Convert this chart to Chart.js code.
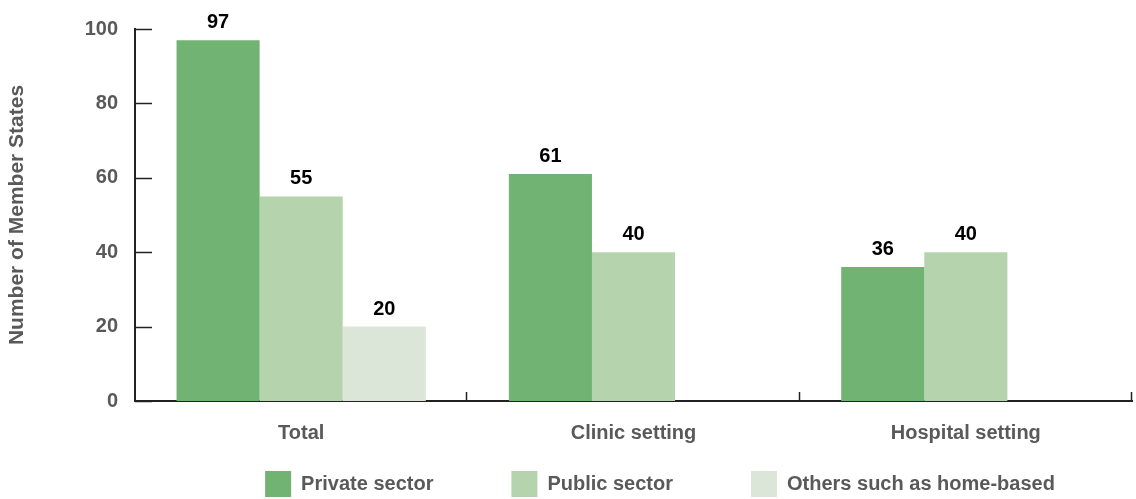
<!DOCTYPE html>
<html>
<head>
<meta charset="utf-8">
<script src="https://cdn.jsdelivr.net/npm/chart.js@4"></script>
<style>
  html, body { margin: 0; padding: 0; background: #fff; overflow: hidden; }
  #wrap { width: 1136px; height: 499px; position: relative; }
</style>
</head>
<body>
<div id="wrap"><canvas id="settingChart"></canvas></div>
<script>
const categories = ['Total', 'Clinic setting', 'Hospital setting'];
const privateSector = [97, 61, 36];
const publicSector = [55, 40, 40];
const othersHomeBased = [20, null, null];
const yTicks = [0, 20, 40, 60, 80, 100];

const FONT = "'Liberation Sans', Arial, sans-serif";
const GREY = '#595959';
const AXIS = '#222222';

// value labels above every bar
const valueLabels = {
    id: 'valueLabels',
    afterDatasetsDraw(chart) {
        const ctx = chart.ctx;
        ctx.save();
        ctx.font = 'bold 20px ' + FONT;
        ctx.fillStyle = '#000';
        ctx.textAlign = 'center';
        ctx.textBaseline = 'alphabetic';
        chart.data.datasets.forEach((ds, i) => {
            const meta = chart.getDatasetMeta(i);
            meta.data.forEach((bar, j) => {
                const v = ds.data[j];
                if (v === null || v === undefined) return;
                ctx.fillText(String(v), bar.x, bar.y - 12);
            });
        });
        ctx.restore();
    }
};

// ticks pointing into the plot, like the original
const innerTicks = {
    id: 'innerTicks',
    afterDraw(chart) {
        const ctx = chart.ctx;
        const area = chart.chartArea;
        const y = chart.scales.y;
        const x = chart.scales.x;
        ctx.save();
        ctx.strokeStyle = AXIS;
        ctx.lineWidth = 1.5;
        y.ticks.forEach((t, i) => {
            const py = Math.round(y.getPixelForTick(i)) + 0.5;
            ctx.beginPath();
            ctx.moveTo(area.left, py);
            ctx.lineTo(area.left + 17, py);
            ctx.stroke();
        });
        const n = categories.length;
        const w = (x.right - x.left) / n;
        for (let k = 1; k <= n; k++) {
            const px = Math.round(x.left + k * w) - 0.5;
            ctx.beginPath();
            ctx.moveTo(px, area.bottom);
            ctx.lineTo(px, area.bottom - 9);
            ctx.stroke();
        }
        ctx.restore();
    }
};

// move the legend to where it sits in the original
const legendPlace = {
    id: 'legendPlace',
    afterLayout(chart) {
        const lg = chart.legend;
        const pad = lg.options.labels.padding;
        const shift = 94;
        lg.left += shift;
        lg.right += shift;
        lg.top = 471 - pad;
        lg.bottom = 510;
        lg.height = lg.bottom - lg.top;
    }
};

const ctx = document.getElementById('settingChart').getContext('2d');
new Chart(ctx, {
    type: 'bar',
    data: {
        labels: categories,
        datasets: [
            { label: 'Private sector', data: privateSector, backgroundColor: '#71b373' },
            { label: 'Public sector', data: publicSector, backgroundColor: '#b5d3ad' },
            { label: 'Others such as home-based', data: othersHomeBased, backgroundColor: '#dbe6d8' },
        ],
    },
    options: {
        responsive: true,
        maintainAspectRatio: false,
        animation: false,
        devicePixelRatio: 1,
        layout: { padding: { top: 29, right: 4, left: 0, bottom: 0 } },
        datasets: {
            bar: { categoryPercentage: 0.75, barPercentage: 1.0, borderWidth: 0 }
        },
        scales: {
            x: {
                grid: { display: false, drawTicks: false },
                border: { display: true, color: AXIS, width: 2 },
                ticks: {
                    color: GREY,
                    padding: 20,
                    font: { family: FONT, size: 20, weight: 'bold' },
                },
                afterFit(scale) { scale.height = 50; },
            },
            y: {
                min: 0,
                max: 100,
                afterBuildTicks(scale) { scale.ticks = yTicks.map(v => ({ value: v })); },
                grid: { display: false, drawTicks: false },
                border: { display: true, color: AXIS, width: 2 },
                ticks: {
                    color: GREY,
                    padding: 17,
                    font: { family: FONT, size: 20, weight: 'bold' },
                },
                title: {
                    display: true,
                    text: 'Number of Member States',
                    color: GREY,
                    padding: { top: 5, bottom: 0 },
                    font: { family: FONT, size: 21, weight: 'bold' },
                },
                afterFit(scale) { scale.width = 135; },
            },
        },
        plugins: {
            legend: {
                position: 'bottom',
                maxHeight: 48,
                labels: {
                    boxWidth: 26,
                    boxHeight: 26,
                    padding: 78,
                    color: GREY,
                    font: { family: FONT, size: 20, weight: 'bold' },
                },
            },
            tooltip: { enabled: false },
        },
    },
    plugins: [valueLabels, innerTicks, legendPlace],
});
</script>
</body>
</html>
